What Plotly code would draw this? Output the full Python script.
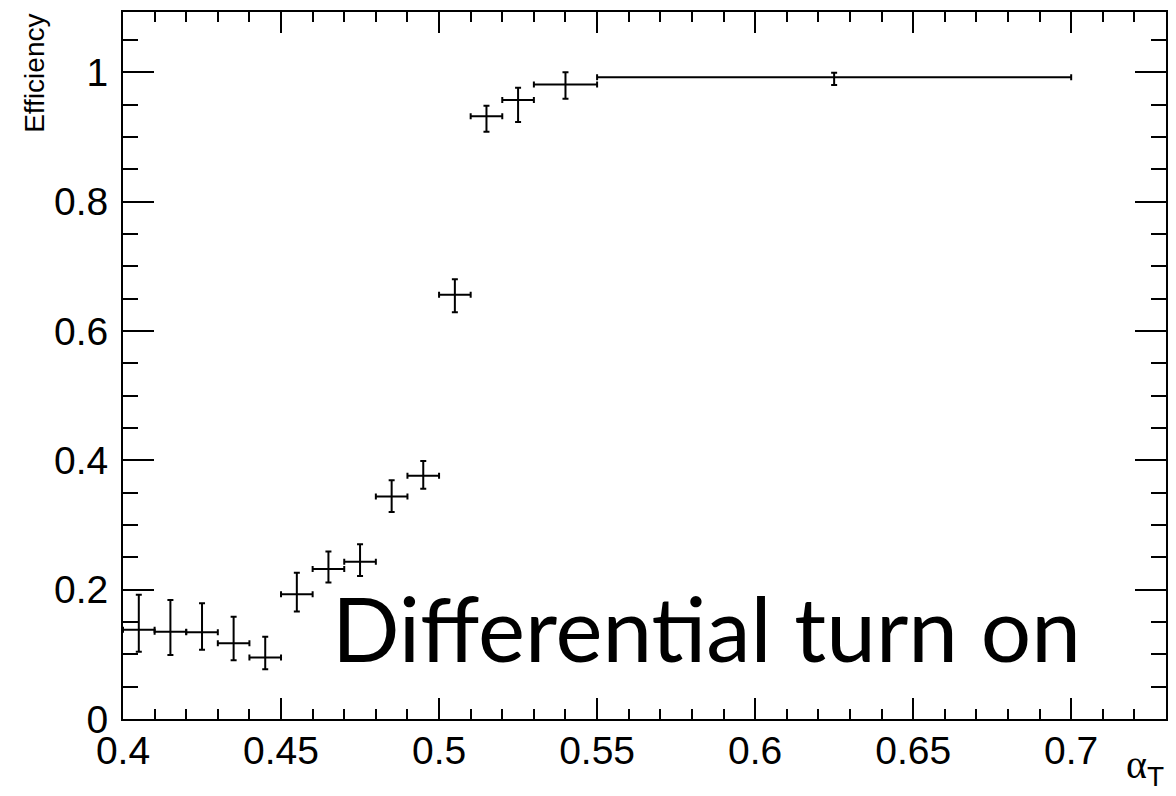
import plotly.graph_objects as go

# bin centres, half widths (alpha_T)
x_center = [0.405, 0.415, 0.425, 0.435, 0.445, 0.455, 0.465, 0.475, 0.485,
            0.495, 0.505, 0.515, 0.525, 0.54, 0.625]
x_half = [0.005, 0.005, 0.005, 0.005, 0.005, 0.005, 0.005, 0.005, 0.005,
          0.005, 0.005, 0.005, 0.005, 0.01, 0.075]
# efficiency values and asymmetric bounds
eff = [0.138, 0.135, 0.134, 0.117, 0.095, 0.193, 0.232, 0.243, 0.344,
       0.376, 0.656, 0.932, 0.957, 0.981, 0.992]
eff_up = [0.192, 0.184, 0.179, 0.158, 0.127, 0.226, 0.259, 0.270, 0.369,
          0.399, 0.680, 0.948, 0.976, 1.000, 0.999]
eff_lo = [0.104, 0.099, 0.107, 0.091, 0.077, 0.166, 0.211, 0.221, 0.320,
          0.356, 0.629, 0.908, 0.923, 0.959, 0.980]

err_plus = [u - v for u, v in zip(eff_up, eff)]
err_minus = [v - l for v, l in zip(eff, eff_lo)]

fig = go.Figure()
fig.add_trace(go.Scatter(
    x=x_center, y=eff, mode="markers",
    marker=dict(size=1, color="black"),
    error_x=dict(type="data", array=x_half, symmetric=True,
                 color="black", thickness=2, width=3),
    error_y=dict(type="data", array=err_plus, arrayminus=err_minus,
                 symmetric=False, color="black", thickness=2, width=3),
    showlegend=False, hoverinfo="x+y",
))

tickfont = dict(family="Liberation Sans, Arial, sans-serif", size=39, color="black")

fig.update_layout(
    width=1176, height=796,
    margin=dict(l=123, r=10, t=12, b=77, autoexpand=False),
    paper_bgcolor="white", plot_bgcolor="white",
    xaxis=dict(
        range=[0.4, 0.73], showgrid=False, zeroline=False, automargin=False,
        showline=True, linecolor="black", linewidth=2, mirror="ticks",
        ticks="inside", ticklen=21, tickwidth=1.5, tickcolor="black",
        tick0=0.4, dtick=0.05, tickfont=tickfont, tickangle=0,
        ticklabelstandoff=-4,
        minor=dict(ticks="inside", ticklen=10, tickwidth=1.5,
                   tickcolor="black", dtick=0.01, tick0=0.4, showgrid=False),
    ),
    yaxis=dict(
        range=[0, 1.093], showgrid=False, zeroline=False, automargin=False,
        showline=True, linecolor="black", linewidth=2, mirror="ticks",
        ticks="inside", ticklen=31, tickwidth=1.5, tickcolor="black",
        tick0=0, dtick=0.2, tickfont=tickfont,
        ticklabelstandoff=5,
        minor=dict(ticks="inside", ticklen=15, tickwidth=1.5,
                   tickcolor="black", dtick=0.05, tick0=0, showgrid=False),
    ),
)

fig.add_annotation(
    text="Efficiency", textangle=-90, xref="paper", yref="paper",
    x=-0.085, y=1.0, xanchor="center", yanchor="top", showarrow=False,
    font=dict(family="Liberation Sans, Arial, sans-serif", size=28, color="black"),
)
fig.add_annotation(
    text="<span style='font-family:Liberation Serif'>α</span><sub>T</sub>",
    xref="paper", yref="paper", x=1.0, y=-0.106,
    xanchor="right", yanchor="bottom", showarrow=False,
    font=dict(family="Liberation Sans, Arial, sans-serif", size=40, color="black"),
)
fig.add_annotation(
    text="Differential turn on", xref="x", yref="y",
    x=0.4655, y=0.142, xanchor="left", yanchor="middle", showarrow=False,
    font=dict(family="Lato, sans-serif", size=89, color="black"),
)

fig.write_html("out.html")
